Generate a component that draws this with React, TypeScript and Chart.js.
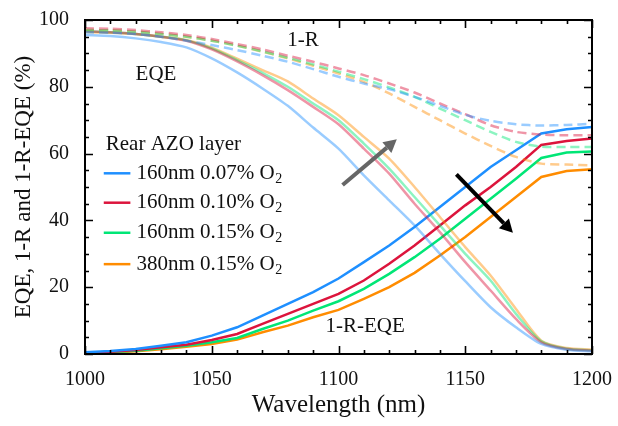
import React, { useEffect, useRef } from "react";
import { Chart, registerables } from "chart.js";

Chart.register(...registerables);

const wavelengths = [1000, 1010, 1020, 1030, 1040, 1050, 1060, 1070, 1080, 1090, 1100, 1110, 1120, 1130, 1140, 1150, 1160, 1170, 1180, 1190, 1200];

const sampleLabels = ["160nm 0.07% O", "160nm 0.10% O", "160nm 0.15% O", "380nm 0.15% O"];
const sampleColors = ["#1E8FFF", "#DC143C", "#00E676", "#FF8C00"];

// EQE (light solid)
const eqe160_007 = [95.5, 95.2, 94.5, 93.4, 91.8, 88.5, 84.3, 79.5, 74.3, 67.8, 61.5, 53.5, 46, 38.5, 30, 21.8, 14, 8, 3, 1.3, 0.8];
const eqe160_010 = [96.6, 96.3, 95.8, 95.0, 93.8, 91.2, 87.6, 83.5, 79, 74, 68.8, 61.5, 54, 45, 36.5, 27.5, 19, 10.5, 3.5, 1.5, 1];
const eqe160_015 = [96.6, 96.3, 95.8, 95.0, 93.9, 91.5, 88, 84.2, 80, 75, 70, 63, 55.5, 47, 38.5, 30, 22, 12, 3.8, 1.6, 1.1];
const eqe380_015 = [96.4, 96.2, 95.8, 95.0, 94.0, 91.7, 88.4, 85, 81.6, 76.5, 71.5, 65, 58.5, 50, 41, 32, 23.5, 13.5, 4, 1.8, 1.3];

// 1-R (dashed)
const oneMinusR160_007 = [96.3, 96.2, 95.8, 95, 93.8, 92.5, 91, 89.3, 87.5, 85.3, 83, 81, 79.3, 77, 74.3, 71.6, 69.8, 68.8, 68.4, 68.6, 68.9];
const oneMinusR160_010 = [97.5, 97.4, 97, 96.3, 95.5, 94.3, 92.8, 91.2, 89.3, 87.5, 85.5, 83.5, 81, 78.3, 75, 71.8, 68.5, 66.5, 65.7, 65.5, 65.5];
const oneMinusR160_015 = [97, 96.9, 96.5, 95.8, 95, 93.8, 92.3, 90.6, 88.7, 86.7, 84.5, 82.3, 79.8, 77, 73.5, 70, 66.5, 63.5, 62.1, 62, 62];
const oneMinusR380_015 = [97, 96.9, 96.5, 95.8, 95, 93.8, 92.3, 90.5, 88.5, 86.3, 84, 81.5, 78, 74, 70, 66, 62.3, 59, 57, 56.7, 56.5];

// 1-R-EQE (dark solid)
const loss160_007 = [0.5, 0.9, 1.5, 2.5, 3.5, 5.5, 8, 11.5, 15, 18.5, 22.6, 27.5, 32.5, 38, 44, 50, 56, 61, 66, 67.3, 68];
const loss160_010 = [0.3, 0.7, 1.2, 2, 2.8, 4.2, 6, 9, 12, 15, 18, 22, 27, 32.5, 38.5, 44.5, 50, 56, 62.6, 63.8, 64.5];
const loss160_015 = [0.2, 0.6, 1, 1.7, 2.5, 3.5, 4.8, 7.5, 10, 13, 15.8, 19.5, 24, 29, 34.5, 40.5, 46.5, 52.5, 58.7, 60.3, 60.6];
const loss380_015 = [0.1, 0.4, 0.8, 1.4, 2.2, 3, 4.3, 6.5, 8.5, 11, 13.2, 16.5, 20, 24.3, 29.5, 35, 41, 47, 53, 54.8, 55.3];

const eqeSeries = [eqe160_007, eqe160_010, eqe160_015, eqe380_015];
const oneMinusRSeries = [oneMinusR160_007, oneMinusR160_010, oneMinusR160_015, oneMinusR380_015];
const lossSeries = [loss160_007, loss160_010, loss160_015, loss380_015];

const xTicks = [1000, 1050, 1100, 1150, 1200];
const yTicks = [0, 20, 40, 60, 80, 100];

const FONT = "'Liberation Serif', 'Times New Roman', serif";

function hexToRgba(hex: string, a: number) {
  const n = parseInt(hex.slice(1), 16);
  return `rgba(${(n >> 16) & 255},${(n >> 8) & 255},${n & 255},${a})`;
}

function toPts(arr: number[]) {
  return wavelengths.map((w, i) => ({ x: w, y: arr[i] }));
}

const decorPlugin = {
  id: "decor",
  afterDatasetsDraw(chart: any) {
    const ctx = chart.ctx;
    const xs = chart.scales.x;
    const ys = chart.scales.y;
    const X = (v: number) => xs.getPixelForValue(v);
    const Y = (v: number) => ys.getPixelForValue(v);
    const { left, right, top, bottom } = chart.chartArea;

    ctx.save();
    // frame
    ctx.strokeStyle = "#000";
    ctx.lineWidth = 2;
    ctx.strokeRect(left, top, right - left, bottom - top);
    // ticks
    ctx.lineWidth = 1.6;
    ctx.beginPath();
    for (let v = 1000; v <= 1200; v += 10) {
      const len = v % 50 === 0 ? 8 : 4;
      const px = Math.round(X(v)) + 0.5;
      ctx.moveTo(px, bottom);
      ctx.lineTo(px, bottom - len);
      ctx.moveTo(px, top);
      ctx.lineTo(px, top + len);
    }
    for (let v = 0; v <= 100; v += 5) {
      const len = v % 20 === 0 ? 8 : 4;
      const py = Math.round(Y(v)) + 0.5;
      ctx.moveTo(left, py);
      ctx.lineTo(left + len, py);
      ctx.moveTo(right, py);
      ctx.lineTo(right - len, py);
    }
    ctx.stroke();

    // annotations
    ctx.fillStyle = "#111";
    ctx.font = `21px ${FONT}`;
    ctx.textAlign = "center";
    ctx.textBaseline = "middle";
    ctx.fillText("1-R", X(1086), Y(93.9));
    ctx.fillText("EQE", X(1028), Y(83.6));
    ctx.fillText("1-R-EQE", X(1110.5), Y(8.2));

    // arrows
    const arrow = (x1: number, y1: number, x2: number, y2: number, color: string) => {
      const ax = X(x1), ay = Y(y1), bx = X(x2), by = Y(y2);
      const ang = Math.atan2(by - ay, bx - ax);
      const head = 13;
      const hw = 7;
      const baseX = bx - head * Math.cos(ang);
      const baseY = by - head * Math.sin(ang);
      ctx.strokeStyle = color;
      ctx.fillStyle = color;
      ctx.lineWidth = 4;
      ctx.lineCap = "butt";
      ctx.beginPath();
      ctx.moveTo(ax, ay);
      ctx.lineTo(baseX, baseY);
      ctx.stroke();
      ctx.beginPath();
      ctx.moveTo(bx, by);
      ctx.lineTo(baseX + hw * Math.sin(ang), baseY - hw * Math.cos(ang));
      ctx.lineTo(baseX - hw * Math.sin(ang), baseY + hw * Math.cos(ang));
      ctx.closePath();
      ctx.fill();
    };
    arrow(1101.6, 50.6, 1123, 64.3, "#666666");
    arrow(1146.5, 53.8, 1168.8, 36.3, "#000000");

    // legend
    ctx.textAlign = "left";
    ctx.fillStyle = "#111";
    ctx.font = `21px ${FONT}`;
    ctx.fillText("Rear AZO layer", X(1008.2), Y(62.6));
    const rowY = [54.1, 45.3, 36.3, 26.9];
    sampleLabels.forEach((lab, i) => {
      const y = Y(rowY[i]);
      ctx.strokeStyle = sampleColors[i];
      ctx.lineWidth = 2.5;
      ctx.beginPath();
      ctx.moveTo(X(1007.4), y);
      ctx.lineTo(X(1017.9), y);
      ctx.stroke();
      ctx.fillStyle = "#111";
      ctx.font = `21px ${FONT}`;
      const tx = X(1020.3);
      ctx.fillText(lab, tx, y);
      const w = ctx.measureText(lab).width;
      ctx.font = `14px ${FONT}`;
      ctx.fillText("2", tx + w + 0.5, y + 6);
    });
    ctx.restore();
  },
};

export default function App() {
  const ref = useRef<HTMLCanvasElement>(null);
  useEffect(() => {
    document.body.style.margin = "0";
    const datasets: any[] = [];
    oneMinusRSeries.forEach((arr, i) => {
      datasets.push({
        label: `1-R ${sampleLabels[i]}2`,
        data: toPts(arr),
        borderColor: hexToRgba(sampleColors[i], 0.45),
        borderWidth: 2.5,
        borderDash: [9, 5],
        pointRadius: 0,
        tension: 0.25,
        fill: false,
      });
    });
    eqeSeries.forEach((arr, i) => {
      datasets.push({
        label: `EQE ${sampleLabels[i]}2`,
        data: toPts(arr),
        borderColor: hexToRgba(sampleColors[i], 0.45),
        borderWidth: 2.5,
        pointRadius: 0,
        tension: 0.25,
        fill: false,
      });
    });
    lossSeries.forEach((arr, i) => {
      datasets.push({
        label: `1-R-EQE ${sampleLabels[i]}2`,
        data: toPts(arr),
        borderColor: sampleColors[i],
        borderWidth: 2.5,
        pointRadius: 0,
        tension: 0,
        fill: false,
      });
    });

    const chart = new Chart(ref.current as HTMLCanvasElement, {
      type: "line",
      data: { datasets },
      options: {
        animation: false,
        responsive: false,
        maintainAspectRatio: false,
        layout: { padding: { top: 12, right: 21, left: 0, bottom: 0 } },
        plugins: { legend: { display: false }, tooltip: { enabled: false } },
        scales: {
          x: {
            type: "linear",
            min: 1000,
            max: 1200,
            grid: { display: false },
            border: { display: false },
            afterBuildTicks: (s: any) => {
              s.ticks = xTicks.map((v) => ({ value: v }));
            },
            afterFit: (s: any) => {
              s.height = 72;
            },
            ticks: {
              color: "#111",
              font: { family: FONT, size: 20 },
              padding: 6,
              maxRotation: 0,
              callback: (v: any) => String(v),
            },
            title: {
              display: true,
              text: "Wavelength (nm)",
              color: "#111",
              font: { family: FONT, size: 25 },
              padding: { top: 0, bottom: 6 },
            },
          },
          y: {
            type: "linear",
            min: 0,
            max: 100,
            grid: { display: false },
            border: { display: false },
            afterBuildTicks: (s: any) => {
              s.ticks = yTicks.map((v) => ({ value: v }));
            },
            afterFit: (s: any) => {
              s.width = 85;
            },
            ticks: {
              color: "#111",
              font: { family: FONT, size: 20 },
              padding: 8,
              callback: (v: any) => String(v),
            },
            title: {
              display: true,
              text: "EQE, 1-R and 1-R-EQE (%)",
              color: "#111",
              font: { family: FONT, size: 23 },
              padding: { top: 10, bottom: 0 },
            },
          },
        },
      },
      plugins: [decorPlugin],
    });
    return () => chart.destroy();
  }, []);
  return (
    <div style={{ width: 618, height: 426, background: "#fff" }}>
      <canvas ref={ref} width={618} height={426} style={{ display: "block" }} />
    </div>
  );
}
